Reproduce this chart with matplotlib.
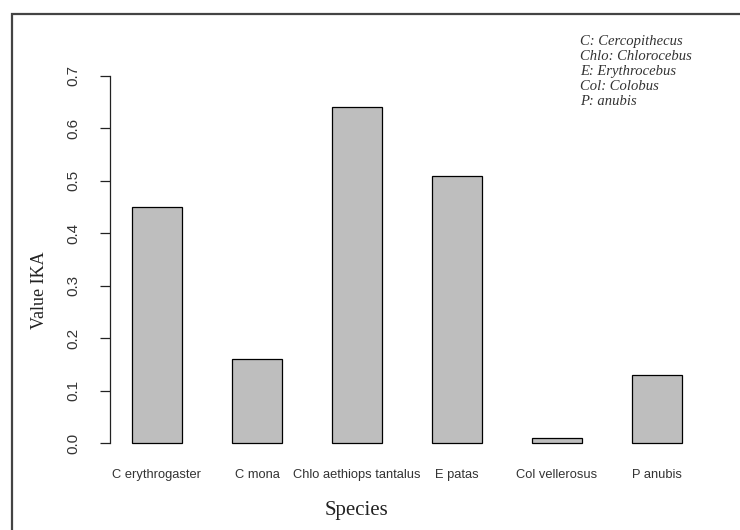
import matplotlib
matplotlib.use("Agg")
import matplotlib.pyplot as plt
from matplotlib.patches import Rectangle

species = ["C erythrogaster", "C mona", "Chlo aethiops tantalus", "E patas",
           "Col vellerosus", "P anubis"]
ika = [0.45, 0.16, 0.64, 0.51, 0.01, 0.13]
yticks = [0.0, 0.1, 0.2, 0.3, 0.4, 0.5, 0.6, 0.7]
legend_lines = ["C: Cercopithecus", "Chlo: Chlorocebus", "E: Erythrocebus",
                "Col: Colobus", "P: anubis"]

W, H = 740, 530
fig = plt.figure(figsize=(W / 100, H / 100), dpi=100)
fig.patch.set_facecolor("white")

# outer frame (left and top edges visible, the rest cropped off)
fig.add_artist(Rectangle((12 / W, -0.05), 1.2, 1 - 14 / H + 0.05,
                         transform=fig.transFigure, fill=False,
                         edgecolor="#444444", linewidth=1.6, clip_on=False))

ax = fig.add_axes([110 / W, 1 - 457.7 / H, 594 / W, (457.7 - 61.3) / H])
# R-style barplot: width 1, space 1
centers = [1.5 + 2 * i for i in range(len(species))]
ax.bar(centers, ika, width=1.0, color="#BEBEBE", edgecolor="black", linewidth=0.9)
ax.set_xlim(0.56, 12.44)
ax.set_ylim(-0.028, 0.728)

for s in ["top", "right", "bottom"]:
    ax.spines[s].set_visible(False)
ax.spines["left"].set_bounds(0, 0.7)
ax.spines["left"].set_color("#222222")
ax.spines["left"].set_linewidth(0.9)

ax.set_yticks(yticks)
ax.set_yticklabels([f"{v:.1f}" for v in yticks], rotation=90, va="center",
                   family=["Liberation Sans Narrow", "Liberation Sans"],
                   fontsize=11, color="#333333")
ax.tick_params(axis="y", length=7, width=0.9, pad=14, color="#222222")

ax.set_xticks(centers)
ax.set_xticklabels(species, family="Liberation Sans", fontsize=9.3, color="#333333")
ax.tick_params(axis="x", length=0, pad=8)

fig.text(356 / W, 1 - 510 / H, "Species", family="Liberation Serif",
         fontsize=15, ha="center", va="center", color="#222222")
fig.text(40 / W, 1 - 290 / H, "Value IKA", family="Liberation Serif",
         fontsize=13, ha="center", va="center", rotation=90, color="#222222")

for i, line in enumerate(legend_lines):
    fig.text(580 / W, 1 - (41 + 15.2 * i) / H, line, family="Liberation Serif",
             style="italic", fontsize=10.5, ha="left", va="center", color="#333333")

fig.savefig("out.png", dpi=100)
